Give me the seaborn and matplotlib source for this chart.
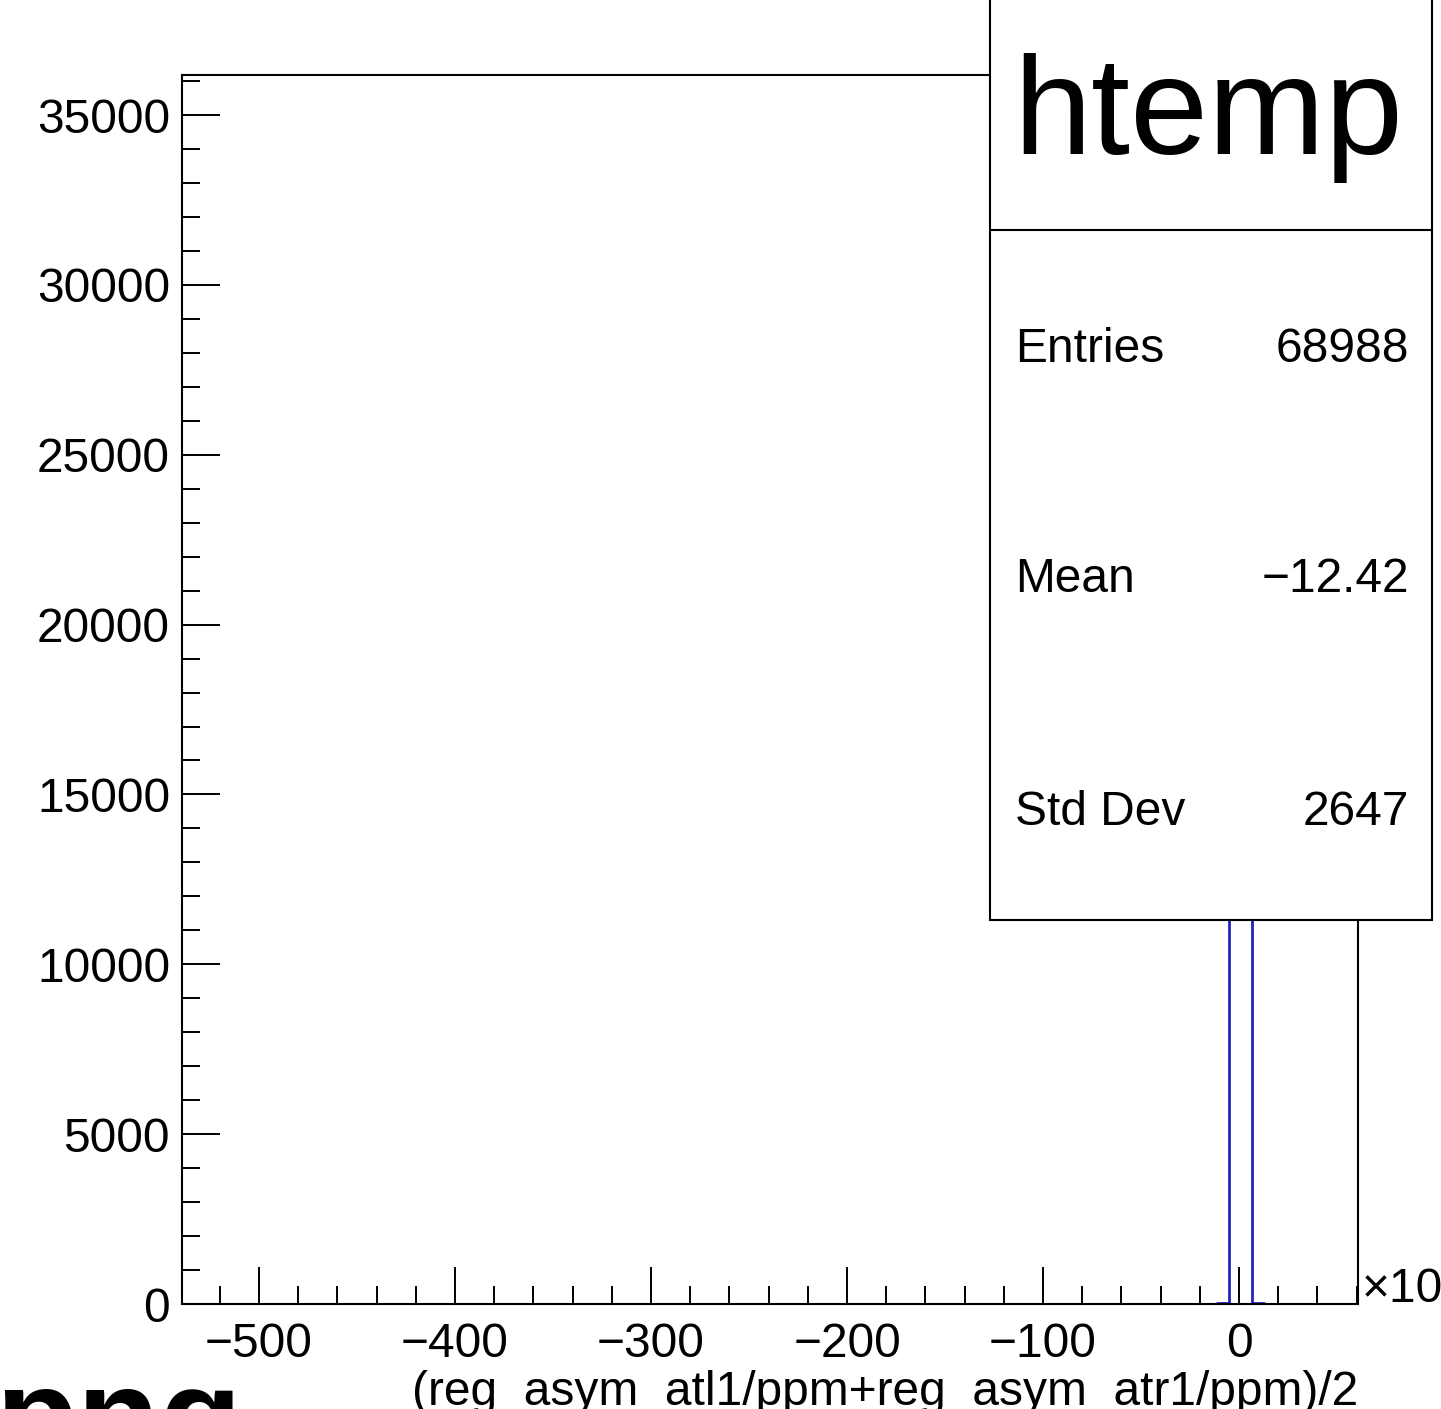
import numpy as np
import pandas as pd
import matplotlib
matplotlib.use("Agg")
import matplotlib.pyplot as plt
from matplotlib.patches import Rectangle
from matplotlib.lines import Line2D
from matplotlib.ticker import MultipleLocator
import seaborn as sns

# histogram data (bin edges / counts)
bin_edges = [-11.3, -5.3, 0.7, 6.7, 12.7]
bin_counts = [40, 34460, 34450, 38]
x_range = (-539.3, 60.7)
y_max = 36180

stats_title = "htemp"
stats_names = ["Entries", "Mean", "Std Dev"]
stats_values = ["68988", "\u221212.42", "2647"]
x_label = "(reg_asym_atl1/ppm+reg_asym_atr1/ppm)/2"

sns.set_theme(style="white")
plt.rcParams["font.family"] = ["Liberation Sans", "DejaVu Sans"]
plt.rcParams["text.color"] = "black"
plt.rcParams["xtick.color"] = "black"
plt.rcParams["ytick.color"] = "black"
plt.rcParams["xtick.labelcolor"] = "black"
plt.rcParams["ytick.labelcolor"] = "black"

W, H = 1441, 1409
fig = plt.figure(figsize=(W / 100, H / 100), dpi=100)
ax = fig.add_axes([182 / W, 1 - 1304 / H, (1358 - 182) / W, (1304 - 75) / H])

centers = [(a + b) / 2 for a, b in zip(bin_edges[:-1], bin_edges[1:])]
df = pd.DataFrame({"x": centers, "w": bin_counts})
sns.histplot(data=df, x="x", weights="w", bins=bin_edges, element="step",
             fill=False, color="#2424b8", linewidth=2.0, ax=ax)

ax.set_xlim(*x_range)
ax.set_ylim(0, y_max)
ax.set_xlabel("")
ax.set_ylabel("")
ax.xaxis.set_major_locator(MultipleLocator(100))
ax.xaxis.set_minor_locator(MultipleLocator(20))
ax.yaxis.set_major_locator(MultipleLocator(5000))
ax.yaxis.set_minor_locator(MultipleLocator(1000))
ax.tick_params(which="both", direction="in", top=False, right=False,
               bottom=True, left=True, color="black", labelcolor="black", width=1.4)
ax.tick_params(which="major", length=27)
ax.tick_params(which="minor", length=13)
ax.tick_params(axis="y", which="major", pad=8.6, labelsize=34.5)
ax.tick_params(axis="x", which="major", pad=13, labelsize=34.5)
for s in ax.spines.values():
    s.set_visible(True)
    s.set_color("black")
    s.set_linewidth(1.5)

# exponent hint, x label
fig.text(1362 / W, 1 - 1290 / H, "\u00d710", fontsize=34.5, ha="left", va="center")
fig.text(1358 / W, 1 - 1405 / H, x_label, fontsize=34.5, ha="right", va="baseline")
fig.text(242 / W, 1 - 1462 / H, "png", fontsize=97, fontweight="bold",
         ha="right", va="baseline")

# stats box
box = Rectangle((990 / W, 1 - 920 / H), (1432 - 990) / W, 920 / H + 0.01,
                transform=fig.transFigure, facecolor="white", edgecolor="black",
                linewidth=1.5, zorder=5)
fig.add_artist(box)
fig.add_artist(Line2D([990 / W, 1432 / W], [1 - 230 / H, 1 - 230 / H],
                      transform=fig.transFigure, color="black", linewidth=1.5, zorder=6))
fig.text(1208 / W, 1 - 154 / H, stats_title, fontsize=101, ha="center",
         va="baseline", zorder=7)
for name, val, base in zip(stats_names, stats_values, [362, 592, 825]):
    fig.text(1015 / W, 1 - base / H, name, fontsize=34.5, ha="left", va="baseline", zorder=7)
    fig.text(1409 / W, 1 - base / H, val, fontsize=34.5, ha="right", va="baseline", zorder=7)

fig.savefig("out.png", dpi=100, facecolor="white")
